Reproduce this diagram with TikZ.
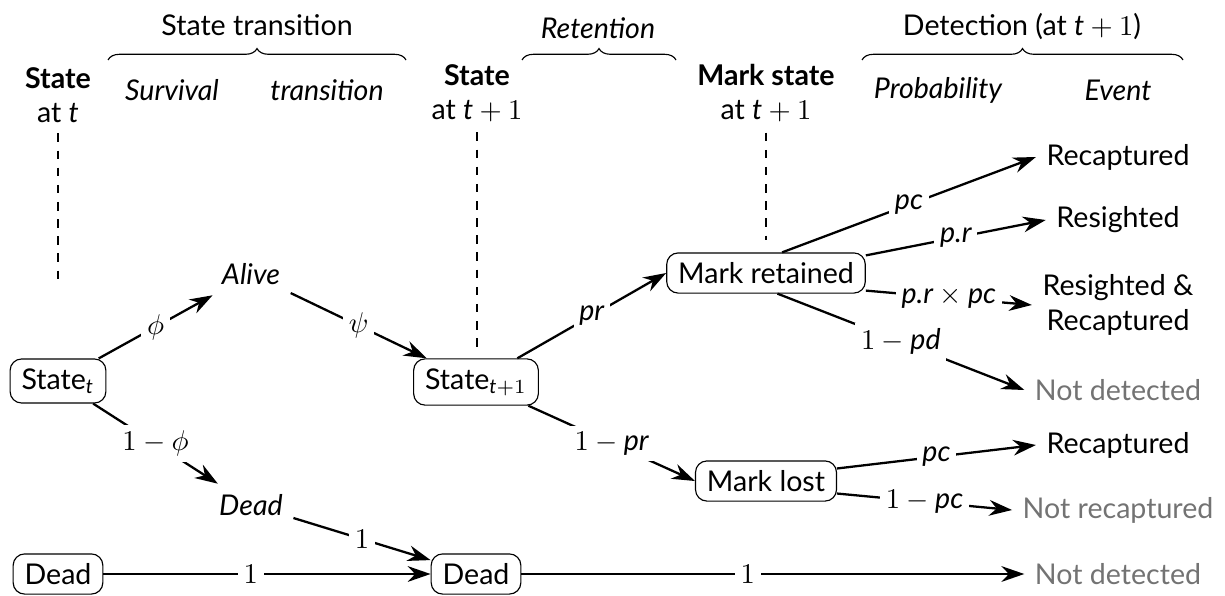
\documentclass[tikz,border=0pt]{standalone}
\usepackage{amsmath}
\usepackage{fontspec}
\setmainfont{Lato}
\usepackage{tikz}
\usetikzlibrary{arrows.meta,decorations.pathreplacing}
\newcommand{\mv}[1]{\textit{#1}}

\begin{document}
\begin{tikzpicture}[x=0.0123cm,y=-0.0123cm,thick,>={Stealth[length=8pt,width=5.5pt]},
  box/.style={draw,thin,rounded corners=4pt,inner xsep=4pt,inner ysep=3.3pt},
  lab/.style={fill=white,inner sep=2pt},
  head/.style={align=center},
  sub/.style={font=\itshape},
  gone/.style={text=black!55},
  brc/.style={thin,decorate,decoration={brace,amplitude=4pt}}]
\useasboundingbox (0,0) rectangle (1225,595);
% column heads
\node[head] (hS0) at (58,95) {\textbf{State}\\at $\mv{t}$};
\node (hTr) at (257,25) {State transition};
\node[sub] (hSu) at (172,90) {Survival};
\node[sub] (hTn) at (327,90) {transition};
\node[head] (hS1) at (477,93) {\textbf{State}\\at $\mv{t}+1$};
\node[sub] (hRe) at (598,28) {Retention};
\node[head] (hM) at (766,93) {\textbf{Mark state}\\at $\mv{t}+1$};
\node (hDe) at (1022,27) {Detection (at $\mv{t}+1$)};
\node[sub] (hPr) at (938,90) {Probability};
\node[sub] (hEv) at (1118,90) {Event};
\draw[brc] (108,60) -- (406,60);
\draw[brc] (522,60) -- (676,60);
\draw[brc] (862,60) -- (1183,60);
% tree
\node[box] (St) at (58,381) {State$_{\mv{t}}$};
\node[sub] (Al) at (251,274) {Alive};
\node[sub] (Dd) at (251,505) {Dead};
\node[box] (St1) at (476,382) {State$_{\mv{t}+1}$};
\node[box] (D0) at (58,574) {Dead};
\node[box] (D1) at (476,574) {Dead};
\node[box] (MR) at (766,273) {Mark retained};
\node[box] (ML) at (766,481) {Mark lost};
\node (E1) at (1118,157) {Recaptured};
\node (E2) at (1118,220) {Resighted};
\node[align=center] (E3) at (1118,305) {Resighted \&\\Recaptured};
\node[gone] (E4) at (1118,390) {Not detected};
\node (E5) at (1118,445) {Recaptured};
\node[gone] (E6) at (1118,510) {Not recaptured};
\node[gone] (E7) at (1118,574) {Not detected};
\coordinate (g0) at (58,285);
\coordinate (g1) at (477,350);
\coordinate (g2) at (766,240);
\draw[thin,dashed] (hS0.south) -- (g0);
\draw[thin,dashed] (hS1.south) -- (g1);
\draw[thin,dashed] (hM.south) -- (g2);
\path[->]
(St) edge node[lab] {$\phi$} (Al)
     edge node[lab] {$1-\phi$} (Dd)
(Al) edge node[lab] {$\psi$} (St1)
(Dd) edge node[lab] {$1$} (D1)
(D0) edge node[lab,pos=.45] {$1$} (D1)
(D1) edge node[lab,pos=.45] {$1$} (E7)
(St1) edge node[lab] {$\mv{pr}$} (MR.west)
      edge node[lab] {$1-\mv{pr}$} (ML.west)
(MR.52) edge node[lab] {$\mv{pc}$} (E1.west)
(MR.10) edge node[lab] {$\mv{p.r}$} (E2.west)
(MR.-10) edge node[lab] {$\mv{p.r}\times\mv{pc}$} (E3.west)
(MR.-61) edge node[lab] {$1-\mv{pd}$} (E4.west)
(ML.10) edge node[lab] {$\mv{pc}$} (E5.west)
(ML.-10) edge node[lab] {$1-\mv{pc}$} (E6.west);
\end{tikzpicture}
\end{document}
